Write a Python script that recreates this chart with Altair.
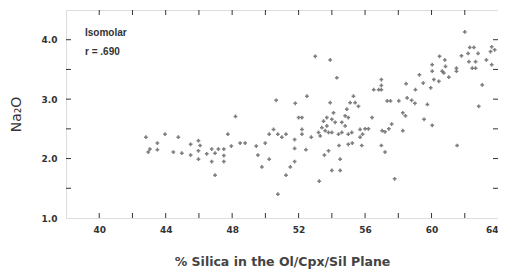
import altair as alt
import pandas as pd

silica = [42.81, 42.95, 43.05, 43.5, 43.5, 43.96, 44.46, 44.76, 44.97, 45.5, 45.5, 45.97, 45.97, 45.97,
          46.07, 46.47, 46.77, 46.77, 46.97, 46.97, 47.17, 47.5, 47.5, 47.5, 47.74, 47.95, 48.2, 48.48,
          48.78, 49.45, 49.55, 49.79, 49.99, 50.23, 50.23, 50.49, 50.65, 50.75, 50.75, 50.99, 51.24,
          51.24, 51.5, 51.76, 51.76, 51.76, 51.8, 52.0, 52.2, 52.2, 52.2, 52.44, 52.5, 52.76, 53.0,
          53.2, 53.24, 53.3, 53.4, 53.5, 53.55, 53.6, 53.7, 53.7, 53.8, 53.8, 53.9, 53.9, 54.0, 54.0,
          54.0, 54.1, 54.2, 54.3, 54.4, 54.43, 54.5, 54.5, 54.6, 54.6, 54.8, 54.8, 54.9, 54.99, 54.99,
          54.99, 55.1, 55.2, 55.23, 55.3, 55.4, 55.6, 55.7, 55.7, 55.8, 55.85, 56.0, 56.2, 56.42, 56.52,
          56.82, 56.98, 56.98, 56.98, 56.98, 57.03, 57.2, 57.2, 57.33, 57.53, 57.43, 57.6, 57.78, 58.03,
          58.27, 58.27, 58.43, 58.47, 58.53, 58.8, 59.0, 59.03, 59.27, 59.5, 59.55, 59.75, 59.95, 60.04,
          60.04, 60.04, 60.14, 60.44, 60.48, 60.64, 60.74, 60.8, 60.84, 61.04, 61.5, 61.5, 61.54, 61.8,
          62.0, 62.2, 62.25, 62.3, 62.45, 62.55, 62.65, 62.65, 62.8, 62.84, 63.05, 63.3, 63.55, 63.62,
          63.62, 63.8]
na2o = [2.36, 2.11, 2.16, 2.26, 2.15, 2.41, 2.11, 2.36, 2.09, 2.24, 2.06, 2.30, 2.13, 1.99,
        2.22, 2.08, 1.95, 2.16, 1.72, 2.09, 2.16, 2.16, 2.05, 1.95, 2.41, 2.21, 2.71, 2.26,
        2.26, 2.21, 2.06, 1.86, 2.26, 2.41, 1.99, 2.49, 2.98, 1.40, 2.41, 2.36, 1.72,
        2.41, 1.86, 2.32, 2.17, 1.95, 2.93, 2.69, 2.69, 2.49, 2.41, 2.15, 3.05, 2.36, 3.72,
        2.44, 1.62, 2.38, 2.52, 2.63, 2.06, 2.47, 2.69, 2.55, 2.44, 2.13, 3.66, 2.94, 2.66, 1.80,
        2.44, 2.77, 2.61, 3.36, 2.41, 2.22, 1.99, 1.80, 2.61, 2.44, 2.72, 2.55, 2.83, 2.41, 2.24,
        2.69, 2.94, 2.44, 2.26, 3.05, 2.94, 2.88, 2.49, 2.36, 2.22, 2.41, 2.50, 2.50, 2.69, 3.16,
        3.16, 3.33, 3.23, 3.16, 2.22, 2.47, 2.45, 2.11, 2.97, 2.97, 2.50, 2.58, 1.66, 2.97,
        2.47, 2.77, 2.72, 3.26, 3.02, 2.98, 2.93, 3.16, 3.41, 3.27, 2.66, 2.91, 3.19, 2.56,
        3.47, 3.58, 3.33, 3.30, 3.72, 3.47, 3.44, 3.66, 3.55, 3.37, 3.52, 3.47, 2.22, 3.73,
        4.13, 3.77, 3.63, 3.87, 3.52, 3.87, 3.63, 3.52, 3.77, 2.88, 3.24, 3.66, 3.80, 3.88,
        3.58, 3.83]

x_label_values = [40, 44, 48, 52, 56, 60, 64]
y_label_values = [1.0, 2.0, 3.0, 4.0]
x_tick_values = [40, 42, 44, 46, 48, 50, 52, 54, 56, 58, 60, 62]
y_tick_values = [1.5, 2.0, 2.5, 3.0, 3.5, 4.0]
annotations = ["Isomolar", "r = .690"]

W, H = 432, 208
FONT = "DejaVu Sans"
INK = "#333333"

df = pd.DataFrame({"silica": silica, "na2o": na2o})
xs = alt.Scale(domain=[38, 64], nice=False, zero=False)
ys = alt.Scale(domain=[1.0, 4.5], nice=False, zero=False)

pts = alt.Chart(df).mark_point(shape="cross", filled=True, size=14, color="#666666", opacity=0.85).encode(
    x=alt.X("silica:Q", scale=xs, axis=alt.Axis(
        values=x_label_values, title="% Silica in the Ol/Cpx/Sil Plane",
        domain=False, ticks=False, grid=False, labelFont=FONT, labelFontSize=9,
        labelFontWeight="bold", labelColor=INK, labelPadding=7, labelFlush=True,
        titleFont=FONT, titleFontSize=12.5, titleFontWeight="bold", titleColor="#444444",
        titlePadding=21)),
    y=alt.Y("na2o:Q", scale=ys, axis=alt.Axis(
        values=y_label_values, format=".1f", title="Na₂O",
        domain=False, ticks=False, grid=False, labelFont=FONT, labelFontSize=9,
        labelFontWeight="bold", labelColor=INK, labelPadding=9, labelFlush=False,
        titleFont=FONT, titleFontSize=14, titleFontWeight="normal", titleColor=INK,
        titlePadding=18)),
)

xt = pd.DataFrame({"v": x_tick_values})
yt = pd.DataFrame({"v": y_tick_values})
tick_style = dict(color=INK, strokeWidth=1)
top_ticks = alt.Chart(xt).mark_rule(**tick_style).encode(x=alt.X("v:Q", scale=xs), y=alt.value(0), y2=alt.value(5))
bot_ticks = alt.Chart(xt).mark_rule(**tick_style).encode(x=alt.X("v:Q", scale=xs), y=alt.value(H), y2=alt.value(H - 5))
left_ticks = alt.Chart(yt).mark_rule(**tick_style).encode(y=alt.Y("v:Q", scale=ys), x=alt.value(0), x2=alt.value(5))
right_ticks = alt.Chart(yt).mark_rule(**tick_style).encode(y=alt.Y("v:Q", scale=ys), x=alt.value(W), x2=alt.value(W - 5))

ann_style = dict(align="left", baseline="middle", font="Liberation Sans", fontSize=10, fontWeight="bold", color=INK)
ann1 = alt.Chart(pd.DataFrame({"t": [annotations[0]]})).mark_text(**ann_style).encode(
    text="t:N", x=alt.value(19), y=alt.value(23))
ann2 = alt.Chart(pd.DataFrame({"t": [annotations[1]]})).mark_text(**ann_style).encode(
    text="t:N", x=alt.value(19), y=alt.value(42))

chart = alt.layer(pts, top_ticks, bot_ticks, left_ticks, right_ticks, ann1, ann2).properties(
    width=W, height=H,
    autosize=alt.AutoSizeParams(type="none"),
    padding={"left": 58, "top": 2, "right": 0, "bottom": 53},
).configure_view(stroke=INK, strokeWidth=2).configure(background="white")

chart.save("out.html", embed_options={"renderer": "svg", "actions": False})
